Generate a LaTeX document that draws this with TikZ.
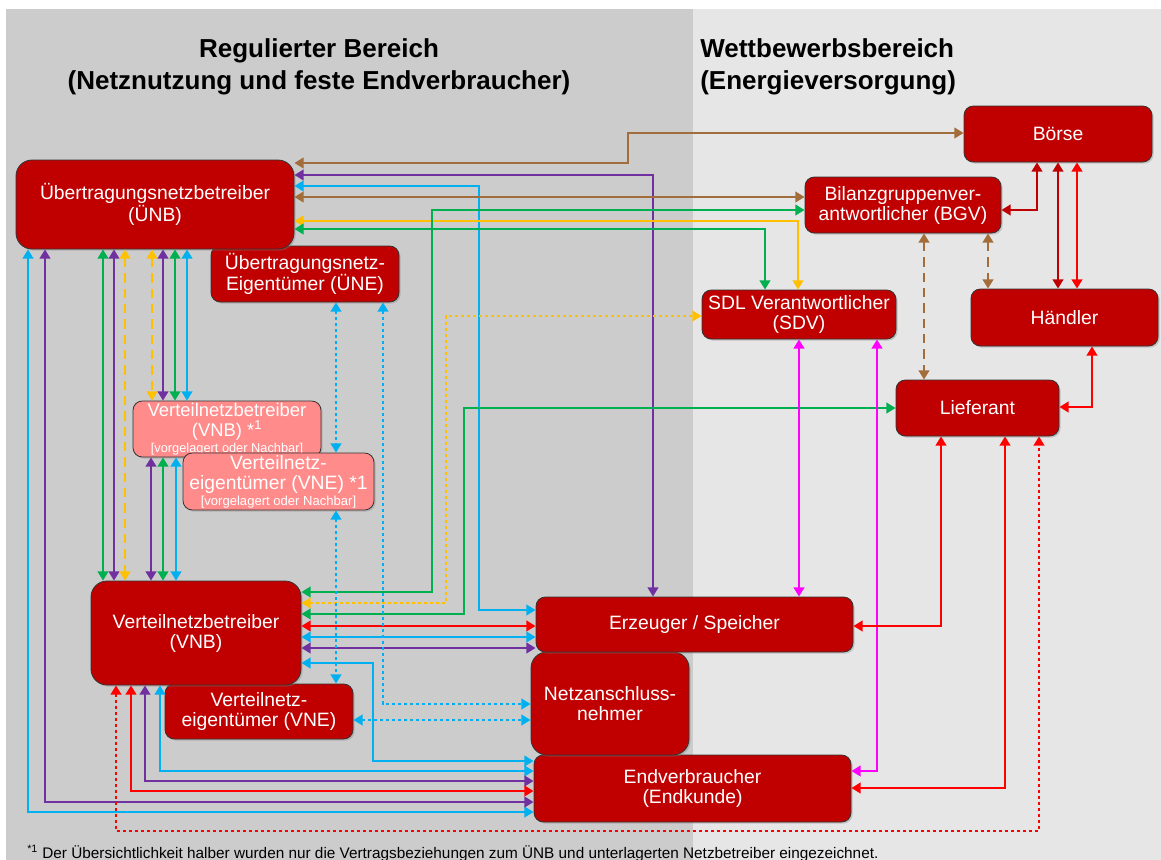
\documentclass[tikz,border=0pt]{standalone}
\usepackage{fontspec}
\setmainfont{Liberation Sans}
\usetikzlibrary{arrows.meta,shadows}
\definecolor{nred}{HTML}{C00000}
\definecolor{npink}{HTML}{FF8B8B}
\definecolor{bgL}{HTML}{CCCCCC}
\definecolor{bgR}{HTML}{E6E6E6}
\definecolor{cbrown}{HTML}{A26D3A}
\definecolor{cpurple}{HTML}{7030A0}
\definecolor{ccyan}{HTML}{00B0F0}
\definecolor{cyellow}{HTML}{FFC000}
\definecolor{cgreen}{HTML}{00B050}
\definecolor{cred}{HTML}{FF0000}
\definecolor{cdred}{HTML}{C00000}
\definecolor{cmag}{HTML}{FF00FF}
\tikzset{
  nbox/.style={draw=black!80, line width=0.6pt, fill=nred, text=white, inner sep=1pt,
    align=center, rounded corners=7pt, font=\fontsize{14.5}{15}\selectfont,
    drop shadow={shadow xshift=1.2pt, shadow yshift=-1.2pt, opacity=0.35}},
  pbox/.style={nbox, fill=npink},
  bigr/.style={rounded corners=12pt},
  con/.style={line width=2.2pt, {Triangle[length=7pt,width=8pt]}-{Triangle[length=7pt,width=8pt]}},
  dsh/.style={dash pattern=on 7pt off 4.5pt},
  dtt/.style={dash pattern=on 2.2pt off 2.3pt},
  ttl/.style={font=\fontsize{19.5}{24}\selectfont\bfseries, inner sep=0pt},
}
% \mkbox{name}{x1}{y1}{x2}{y2}{style}{text}
\newcommand\mkbox[7]{%
  \pgfmathsetmacro\mkbw{(#4-#2)*0.75}%
  \pgfmathsetmacro\mkbh{(#5-#3)*0.75}%
  \node[#6, minimum width=\mkbw pt, minimum height=\mkbh pt] (#1) at ({(#2+#4)/2},{(#3+#5)/2}) {#7};}
\begin{document}
\begin{tikzpicture}[x=0.75pt,y=-0.75pt]
\useasboundingbox (0,0) rectangle (1161,860);
\fill[bgL] (6,9) rectangle (693,860);
\fill[bgR] (693,9) rectangle (1161,860);

% titles
\node[ttl, anchor=base] (t1) at (319,57) {Regulierter Bereich};
\node[ttl, anchor=base] (t2) at (319,89) {(Netznutzung und feste Endverbraucher)};
\node[ttl, anchor=base west] (t3) at (700,57) {Wettbewerbsbereich};
\node[ttl, anchor=base west] (t4) at (700,89) {(Energieversorgung)};

% nodes
\mkbox{end}{534}{755}{851}{822}{nbox}{Endverbraucher\\(Endkunde)}
\mkbox{nan}{531}{652}{689}{755}{nbox, bigr}{Netzanschluss-\\nehmer}
\mkbox{erz}{536}{597}{853}{652}{nbox}{Erzeuger / Speicher}
\mkbox{vne}{165}{684}{353}{739}{nbox}{Verteilnetz-\\eigentümer (VNE)}
\mkbox{vnb}{91}{581}{301}{685}{nbox, bigr}{Verteilnetzbetreiber\\(VNB)}
\mkbox{une}{211}{246}{399}{302}{nbox}{Übertragungsnetz-\\Eigentümer (ÜNE)}
\mkbox{unb}{16}{160}{294}{249}{nbox, bigr}{Übertragungsnetzbetreiber\\(ÜNB)}
\mkbox{vnb1}{133}{401}{321}{457}{pbox, font=\fontsize{13.8}{15}\selectfont}{Verteilnetzbetreiber\\(VNB) *\textsuperscript{1}\\[-2.5pt]{\fontsize{9.6}{11}\selectfont [vorgelagert oder Nachbar]}}
\mkbox{vne1}{183}{453}{374}{510}{pbox}{Verteilnetz-\\eigentümer (VNE) *1\\[-3pt]{\fontsize{9.8}{11}\selectfont [vorgelagert oder Nachbar]}}
\mkbox{boerse}{964}{106}{1152}{162}{nbox}{Börse}
\mkbox{bgv}{805}{177}{1001}{233}{nbox}{Bilanzgruppenver-\\antwortlicher (BGV)}
\mkbox{sdv}{702}{290}{896}{339}{nbox}{SDL Verantwortlicher\\(SDV)}
\mkbox{haendler}{971}{289}{1158}{346}{nbox}{Händler}
\mkbox{lief}{896}{380}{1059}{436}{nbox}{Lieferant}

% connectors from UNB right side
\draw[con, cbrown] (unb.east |- 0,163) -- (628,163) -- (628,133) -- (boerse.west |- 0,133);
\draw[con, cpurple] (unb.east |- 0,175) -- (653,175) -- (erz.north -| 653,0);
\draw[con, ccyan] (unb.east |- 0,186) -- (479,186) -- (479,610) -- (erz.west |- 0,610);
\draw[con, cbrown] (unb.east |- 0,197) -- (bgv.west |- 0,197);
\draw[con, cyellow] (unb.east |- 0,221) -- (798,221) -- (sdv.north -| 798,0);
\draw[con, cgreen] (unb.east |- 0,229) -- (765,229) -- (sdv.north -| 765,0);

% VNB right side
\draw[con, cgreen] (vnb.east |- 0,592) -- (432,592) -- (432,210) -- (bgv.west |- 0,210);
\draw[con, cyellow, dtt] (vnb.east |- 0,603) -- (446,603) -- (446,316) -- (sdv.west |- 0,316);
\draw[con, cgreen] (vnb.east |- 0,614) -- (464,614) -- (464,408) -- (lief.west |- 0,408);
\draw[con, cred] (vnb.east |- 0,626) -- (erz.west |- 0,626);
\draw[con, ccyan] (vnb.east |- 0,637) -- (erz.west |- 0,637);
\draw[con, cpurple] (vnb.east |- 0,648) -- (erz.west |- 0,648);
\draw[con, ccyan] (vnb.east |- 0,663) -- (373,663) -- (373,761) -- (end.west |- 0,761);

% dotted cyan (owners)
\draw[con, ccyan, dtt] (une.south -| 383,0) -- (383,704) -- (nan.west |- 0,704);
\draw[con, ccyan, dtt] (vne.east |- 0,720) -- (nan.west |- 0,720);
\draw[con, ccyan, dtt] (une.south -| 336,0) -- (vne1.north -| 336,0);
\draw[con, ccyan, dtt] (vne1.south -| 336,0) -- (vne.north -| 336,0);

% UNB bottom
\draw[con, ccyan] (unb.south -| 28,0) -- (28,812) -- (end.west |- 0,812);
\draw[con, cpurple] (unb.south -| 45,0) -- (45,802) -- (end.west |- 0,802);
\draw[con, cgreen] (unb.south -| 103,0) -- (vnb.north -| 103,0);
\draw[con, cpurple] (unb.south -| 114,0) -- (vnb.north -| 114,0);
\draw[con, cyellow, dsh] (unb.south -| 125,0) -- (vnb.north -| 125,0);
\draw[con, cyellow, dsh] (unb.south -| 152,0) -- (vnb1.north -| 152,0);
\draw[con, cpurple] (unb.south -| 163,0) -- (vnb1.north -| 163,0);
\draw[con, cgreen] (unb.south -| 175,0) -- (vnb1.north -| 175,0);
\draw[con, ccyan] (unb.south -| 187,0) -- (vnb1.north -| 187,0);
\draw[con, cpurple] (vnb1.south -| 151,0) -- (vnb.north -| 151,0);
\draw[con, cgreen] (vnb1.south -| 163,0) -- (vnb.north -| 163,0);
\draw[con, ccyan] (vnb1.south -| 176,0) -- (vnb.north -| 176,0);

% VNB bottom
\draw[con, ccyan] (vnb.south -| 160,0) -- (160,771) -- (end.west |- 0,771);
\draw[con, cpurple] (vnb.south -| 145,0) -- (145,781) -- (end.west |- 0,781);
\draw[con, cred] (vnb.south -| 131,0) -- (131,791) -- (end.west |- 0,791);
\draw[con, cred, dtt] (vnb.south -| 116,0) -- (116,831) -- (1039,831) -- (lief.south -| 1039,0);

% right side
\draw[con, cdred] (bgv.east |- 0,210) -- (1037,210) -- (boerse.south -| 1037,0);
\draw[con, cdred] (boerse.south -| 1058,0) -- (haendler.north -| 1058,0);
\draw[con, cred] (boerse.south -| 1077,0) -- (haendler.north -| 1077,0);
\draw[con, cbrown, dsh] (bgv.south -| 924,0) -- (lief.north -| 924,0);
\draw[con, cbrown, dsh] (bgv.south -| 988,0) -- (haendler.north -| 988,0);
\draw[con, cred] (haendler.south -| 1092,0) -- (1092,407) -- (lief.east |- 0,407);
\draw[con, cmag] (sdv.south -| 799,0) -- (erz.north -| 799,0);
\draw[con, cmag] (sdv.south -| 877,0) -- (877,771) -- (end.east |- 0,771);
\draw[con, cred] (lief.south -| 941,0) -- (941,626) -- (erz.east |- 0,626);
\draw[con, cred] (lief.south -| 1005,0) -- (1005,788) -- (end.east |- 0,788);

% footnote
\node[anchor=base west, inner sep=0pt, font=\fontsize{11.5}{13}\selectfont] (fn) at (27,858)
  {\textsuperscript{*1} Der Übersichtlichkeit halber wurden nur die Vertragsbeziehungen zum ÜNB und unterlagerten Netzbetreiber eingezeichnet.};
\end{tikzpicture}
\end{document}
